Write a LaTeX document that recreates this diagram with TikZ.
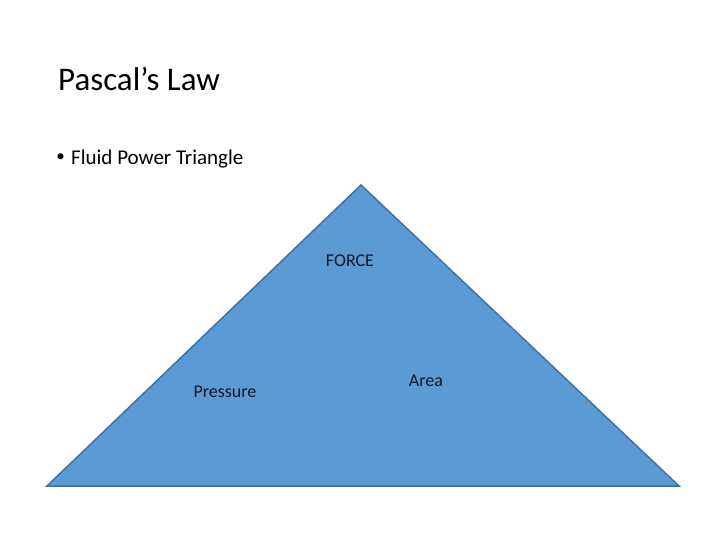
\documentclass[tikz,border=0pt]{standalone}
\usepackage{fontspec}
\setmainfont{Carlito}
\begin{document}
\begin{tikzpicture}[
  x=1pt,
  y=-1pt,
  title/.style={anchor=base west, inner sep=0pt, font=\fontsize{33}{40}\selectfont},
  bullet/.style={anchor=base west, inner sep=0pt, font=\fontsize{21}{25}\selectfont},
  side/.style={anchor=base, inner sep=0pt, text=labelink, font=\fontsize{18}{22}\selectfont},
  tri/.style={fill=triblue, draw=triedge, line width=1.5pt, line join=miter},
]
  \definecolor{triblue}{HTML}{5B9BD5}
  \definecolor{triedge}{HTML}{41719C}
  \definecolor{labelink}{HTML}{111827}
  \useasboundingbox (0,0) rectangle (720,540);

  % heading
  \node[title] (title) at (58,91) {Pascal’s Law};
  \node[bullet, anchor=base east] (dot) at (65,165) {\raisebox{3.5pt}{\fontsize{17}{20}\selectfont •}};
  \node[bullet] (item) at (71,165) {Fluid Power Triangle};

  % triangle
  \coordinate (apex) at (361,185);
  \coordinate (left) at (47,486);
  \coordinate (right) at (679,486);
  \draw[tri] (apex) -- (right) -- (left) -- cycle;

  % labels
  \node[side] (force) at (350,266) {FORCE};
  \node[side] (pressure) at (225,397) {Pressure};
  \node[side] (area) at (426,386) {Area};
\end{tikzpicture}
\end{document}
